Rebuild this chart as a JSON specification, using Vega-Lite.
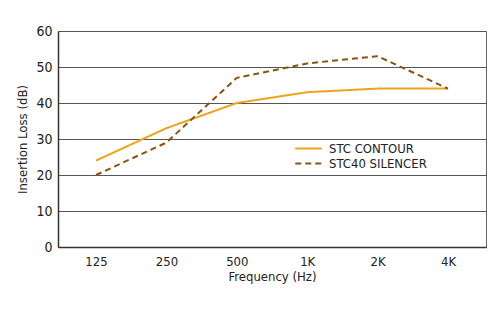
{
  "$schema": "https://vega.github.io/schema/vega-lite/v6.json",
  "width": 428,
  "height": 216,
  "autosize": {"type": "none"},
  "padding": {"left": 58, "top": 31, "right": 12, "bottom": 64},
  "background": "white",
  "config": {
    "font": "DejaVu Sans Condensed, Roboto, sans-serif",
    "view": {"stroke": "#666666", "strokeWidth": 1}
  },
  "data": {
    "values": [
      {"freq": "125", "series": "STC CONTOUR", "loss": 24},
      {"freq": "250", "series": "STC CONTOUR", "loss": 33},
      {"freq": "500", "series": "STC CONTOUR", "loss": 40},
      {"freq": "1K", "series": "STC CONTOUR", "loss": 43},
      {"freq": "2K", "series": "STC CONTOUR", "loss": 44},
      {"freq": "4K", "series": "STC CONTOUR", "loss": 44},
      {"freq": "125", "series": "STC40 SILENCER", "loss": 20},
      {"freq": "250", "series": "STC40 SILENCER", "loss": 29},
      {"freq": "500", "series": "STC40 SILENCER", "loss": 47},
      {"freq": "1K", "series": "STC40 SILENCER", "loss": 51},
      {"freq": "2K", "series": "STC40 SILENCER", "loss": 53},
      {"freq": "4K", "series": "STC40 SILENCER", "loss": 44}
    ]
  },
  "mark": {"type": "line", "strokeWidth": 2},
  "encoding": {
    "x": {
      "field": "freq",
      "type": "ordinal",
      "sort": ["125", "250", "500", "1K", "2K", "4K"],
      "scale": {"type": "point", "padding": 0.54},
      "axis": {
        "title": "Frequency (Hz)",
        "labelAngle": 0,
        "labelFontSize": 13,
        "labelColor": "#222222",
        "labelPadding": 8,
        "ticks": false,
        "grid": false,
        "domainColor": "#333333",
        "domainWidth": 1.5,
        "titleFontSize": 13,
        "titleFontWeight": "normal",
        "titleColor": "#222222",
        "titlePadding": 2
      }
    },
    "y": {
      "field": "loss",
      "type": "quantitative",
      "scale": {"domain": [0, 60], "nice": false},
      "axis": {
        "title": "Insertion Loss (dB)",
        "values": [0, 10, 20, 30, 40, 50, 60],
        "labelFontSize": 14,
        "labelColor": "#222222",
        "labelPadding": 6,
        "ticks": false,
        "grid": true,
        "gridColor": "#555555",
        "gridWidth": 1,
        "gridOpacity": 1,
        "domainColor": "#333333",
        "domainWidth": 1.5,
        "titleFontSize": 13,
        "titleFontWeight": "normal",
        "titleColor": "#222222",
        "titlePadding": 6
      }
    },
    "color": {
      "field": "series",
      "type": "nominal",
      "scale": {"domain": ["STC CONTOUR", "STC40 SILENCER"], "range": ["#EFA31A", "#8E5210"]},
      "legend": {
        "title": null,
        "orient": "none",
        "legendX": 236,
        "legendY": 110,
        "labelFontSize": 13,
        "labelColor": "#222222",
        "labelOffset": 6,
        "symbolType": "stroke",
        "symbolSize": 700,
        "symbolStrokeWidth": 2,
        "clipHeight": 15,
        "rowPadding": 0
      }
    },
    "strokeDash": {
      "field": "series",
      "type": "nominal",
      "scale": {"domain": ["STC CONTOUR", "STC40 SILENCER"], "range": [[1, 0], [6, 4]]},
      "legend": null
    }
  }
}
